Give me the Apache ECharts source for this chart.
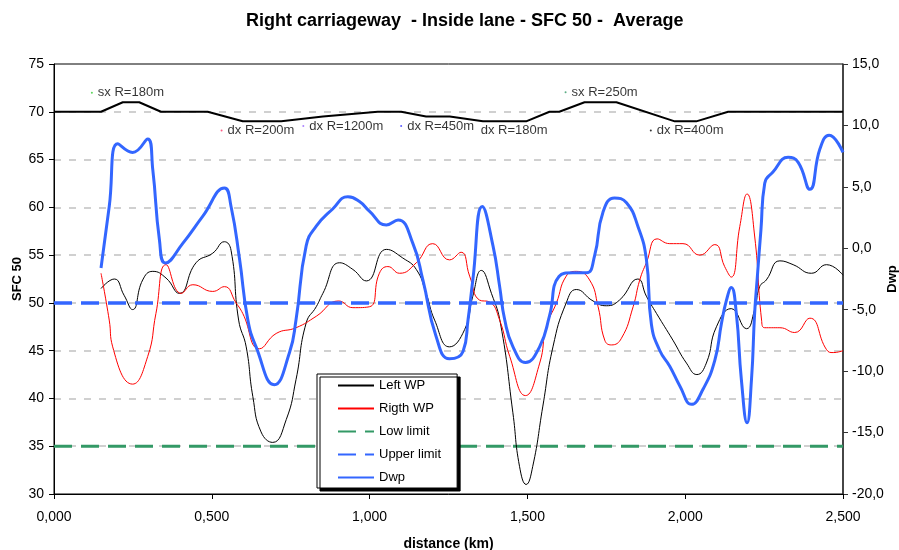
<!DOCTYPE html>
<html>
<head>
<meta charset="utf-8">
<title>SFC 50 - Average</title>
<script src="https://cdn.jsdelivr.net/npm/echarts@6/dist/echarts.min.js"></script>
<style>
html, body { margin: 0; padding: 0; background: #fff; }
#main { width: 899px; height: 550px; }
</style>
</head>
<body>
<div id="main"></div>
<script>
// Left WP (SFC 50, left axis)
var leftX = [0.149, 0.191, 0.222, 0.249, 0.281, 0.313, 0.355, 0.397, 0.450, 0.503, 0.540, 0.561, 0.585, 0.609, 0.630, 0.656, 0.693, 0.736, 0.767, 0.799, 0.831, 0.852, 0.905, 0.947, 0.990, 1.053, 1.105, 1.148, 1.179, 1.206, 1.253, 1.301, 1.327, 1.354, 1.386, 1.415, 1.454, 1.475, 1.496, 1.517, 1.549, 1.581, 1.623, 1.655, 1.708, 1.750, 1.792, 1.850, 1.877, 1.909, 1.961, 2.004, 2.037, 2.067, 2.099, 2.146, 2.194, 2.220, 2.236, 2.257, 2.300, 2.342, 2.400, 2.448, 2.500];
var leftY = [51.5, 52.5, 50.8, 49.3, 52.4, 53.3, 52.6, 51.0, 54.2, 55.2, 56.4, 55.5, 48.2, 45.4, 40.2, 36.5, 35.4, 37.8, 42.0, 47.9, 49.6, 51.0, 54.2, 53.5, 52.3, 55.6, 54.7, 53.5, 51.0, 48.2, 45.4, 47.2, 50.7, 53.4, 51.0, 47.8, 38.5, 32.9, 31.0, 32.9, 39.2, 45.4, 50.0, 51.4, 50.2, 49.7, 50.3, 52.5, 50.7, 48.9, 46.1, 43.7, 42.5, 43.7, 47.5, 49.4, 47.3, 49.3, 51.7, 52.4, 54.4, 54.0, 53.1, 54.0, 52.9];

// Rigth WP (SFC 50, left axis)
var rightX = [0.149, 0.175, 0.186, 0.249, 0.297, 0.323, 0.355, 0.403, 0.440, 0.503, 0.540, 0.577, 0.598, 0.651, 0.704, 0.767, 0.831, 0.902, 0.947, 1.000, 1.031, 1.058, 1.095, 1.148, 1.200, 1.253, 1.290, 1.317, 1.348, 1.380, 1.412, 1.444, 1.494, 1.539, 1.560, 1.592, 1.623, 1.655, 1.697, 1.724, 1.745, 1.766, 1.798, 1.835, 1.856, 1.877, 1.911, 1.951, 1.993, 2.046, 2.094, 2.125, 2.146, 2.173, 2.196, 2.220, 2.242, 2.252, 2.300, 2.347, 2.395, 2.448, 2.469, 2.500];
var rightY = [53.1, 48.2, 45.4, 41.5, 44.4, 48.9, 54.0, 51.0, 51.9, 51.2, 51.7, 50.0, 48.9, 45.2, 46.8, 47.4, 48.6, 50.2, 49.5, 49.6, 53.1, 53.8, 53.1, 54.2, 56.2, 54.5, 55.3, 52.8, 50.3, 50.1, 48.2, 44.4, 40.3, 43.7, 47.5, 50.0, 52.8, 53.3, 52.4, 49.6, 46.1, 45.6, 46.3, 49.6, 52.4, 54.2, 56.7, 56.2, 56.2, 55.0, 56.1, 53.8, 52.7, 58.0, 61.4, 57.0, 48.2, 47.4, 47.4, 46.9, 48.4, 45.1, 44.8, 45.0];

// Dwp (right axis)
var dwpX = [0.149, 0.175, 0.202, 0.249, 0.297, 0.313, 0.334, 0.353, 0.408, 0.471, 0.540, 0.561, 0.588, 0.614, 0.640, 0.698, 0.746, 0.767, 0.799, 0.831, 0.883, 0.931, 0.968, 1.000, 1.053, 1.090, 1.137, 1.169, 1.211, 1.253, 1.296, 1.312, 1.327, 1.357, 1.391, 1.412, 1.428, 1.454, 1.494, 1.539, 1.570, 1.600, 1.644, 1.687, 1.713, 1.739, 1.776, 1.814, 1.850, 1.877, 1.893, 1.919, 1.951, 1.983, 2.020, 2.056, 2.094, 2.115, 2.131, 2.146, 2.162, 2.178, 2.196, 2.210, 2.220, 2.228, 2.240, 2.252, 2.278, 2.326, 2.358, 2.395, 2.427, 2.456, 2.500];
var dwpY = [-1.6, 3.4, 8.5, 7.8, 8.9, 6.4, 0.7, -1.2, 0.4, 2.6, 4.9, 3.4, -0.9, -5.8, -8.0, -11.1, -8.5, -5.8, 0.2, 1.8, 3.2, 4.2, 3.8, 3.0, 1.9, 2.3, 0.4, -2.6, -7.2, -9.0, -8.4, -5.8, -2.6, 3.4, 0.2, -3.1, -5.8, -8.0, -9.3, -8.0, -5.5, -2.3, -2.0, -2.0, -0.6, 2.9, 4.1, 3.7, 1.8, -0.9, -6.2, -8.3, -9.6, -11.2, -12.7, -11.5, -9.1, -6.1, -4.2, -3.2, -5.3, -10.7, -14.2, -10.7, -5.3, -2.5, 1.5, 5.3, 6.2, 7.4, 7.0, 4.8, 8.1, 9.2, 7.8];

// limiti
var lowLimit = 35;
var upperLimit = 50;

// diagramma delle curvature (in alto)
var curveX = [0, 0.149, 0.218, 0.270, 0.339, 0.487, 0.598, 0.720, 0.852, 1.026, 1.100, 1.179, 1.254, 1.359, 1.496, 1.570, 1.601, 1.681, 1.782, 1.967, 2.035, 2.136, 2.500];
var curveY = [70, 70, 71, 71, 70, 70, 69, 69, 69.5, 70, 70, 69.5, 69.5, 69, 69, 70, 70, 71, 71, 69, 69, 70, 70];

var curveLabelX = [0.120, 0.531, 0.790, 1.100, 1.333, 1.621, 1.891];
var curveLabelY = [72.0, 68.05, 68.5, 68.5, 68.0, 72.05, 68.05];
var curveLabelText = ['sx R=180m', 'dx R=200m', 'dx R=1200m', 'dx R=450m', 'dx R=180m', 'sx R=250m', 'dx R=400m'];
var curveDotColor = ['#33cc33', '#ff3366', '#9966ff', '#3333ff', '#ffffff', '#339966', '#000000'];

function pairs(xs, ys) {
	var out = [];
	for (var i = 0; i < xs.length; i++) {
		out.push([xs[i], ys[i]]);
	}
	return out;
}

function comma(v, d) {
	return v.toFixed(d).replace('.', ',');
}

var font = 'Liberation Sans, Arial, sans-serif';

var labelData = [];
for (var k = 0; k < curveLabelX.length; k++) {
	labelData.push({
		value : [curveLabelX[k], curveLabelY[k]],
		name : curveLabelText[k],
		itemStyle : { color : curveDotColor[k] }
	});
}

var option = {
	animation : false,
	backgroundColor : '#ffffff',
	textStyle : { fontFamily : font },
	title : {
		text : 'Right carriageway  - Inside lane - SFC 50 -  Average',
		left : 241,
		top : 7,
		textStyle : {
			fontFamily : font,
			fontSize : 18,
			fontWeight : 'bold',
			color : '#000'
		}
	},
	grid : {
		left : 54,
		right : 56,
		top : 64,
		bottom : 56,
		outerBoundsMode : 'none',// niente ridimensionamento automatico
		show : true,
		borderColor : '#000',
		borderWidth : 1,
		backgroundColor : 'transparent'
	},
	legend : {
		orient : 'vertical',
		left : 317,
		top : 374,
		padding : [5, 16, 4, 20],
		itemWidth : 36,
		itemHeight : 14,
		itemGap : 10,
		itemStyle : { opacity : 0 },// nasconde il pallino
		backgroundColor : '#ffffff',
		borderColor : '#000',
		borderWidth : 1,
		borderRadius : 0,
		shadowColor : '#000',
		shadowOffsetX : 3,
		shadowOffsetY : 3,
		shadowBlur : 0,
		textStyle : {
			fontFamily : font,
			fontSize : 13,
			color : '#000'
		},
		data : ['Left WP', 'Rigth WP', 'Low limit', 'Upper limit', 'Dwp']
	},
	xAxis : {
		type : 'value',
		min : 0,
		max : 2.5,
		interval : 0.5,
		name : 'distance (km)',
		nameLocation : 'middle',
		nameGap : 43,
		nameTextStyle : {
			fontFamily : font,
			fontSize : 14,
			fontWeight : 'bold',
			color : '#000'
		},
		axisLine : { onZero : false, lineStyle : { color : '#000', width : 1 } },
		axisTick : { show : true, length : 5, lineStyle : { color : '#000' } },
		axisLabel : {
			fontFamily : font,
			fontSize : 14,
			color : '#000',
			margin : 16,
			formatter : function(v) {
				return comma(v, 3);
			}
		},
		splitLine : { show : false }
	},
	yAxis : [ {
		type : 'value',
		min : 30,
		max : 75,
		interval : 5,
		name : 'SFC 50',
		nameLocation : 'middle',
		nameGap : 30,
		nameRotate : 90,
		nameMoveOverlap : false,
		nameTextStyle : {
			fontFamily : font,
			fontSize : 13,
			fontWeight : 'bold',
			color : '#000'
		},
		axisLine : { show : true, lineStyle : { color : '#000', width : 1 } },
		axisTick : { show : true, length : 5, lineStyle : { color : '#000' } },
		axisLabel : {
			fontFamily : font,
			fontSize : 14,
			color : '#000',
			margin : 10
		},
		splitLine : {
			show : true,
			showMinLine : false,
			showMaxLine : false,
			lineStyle : { color : '#d0d0d0', width : 2, type : [7, 8] }
		}
	}, {
		type : 'value',
		min : -20,
		max : 15,
		interval : 5,
		name : 'Dwp',
		nameLocation : 'middle',
		nameGap : 43,
		nameRotate : 90,
		nameMoveOverlap : false,
		nameTextStyle : {
			fontFamily : font,
			fontSize : 13,
			fontWeight : 'bold',
			color : '#000'
		},
		axisLine : { show : true, lineStyle : { color : '#333', width : 1.5 } },
		axisTick : { show : true, length : 5, lineStyle : { color : '#333' } },
		axisLabel : {
			fontFamily : font,
			fontSize : 14,
			color : '#000',
			margin : 9,
			formatter : function(v) {
				return comma(v, 1);
			}
		},
		splitLine : { show : false }
	} ],
	series : [ {
		name : 'Left WP',
		type : 'line',
		data : pairs(leftX, leftY),
		smooth : 0.5,
		symbol : 'none',
		color : '#000000',
		lineStyle : { color : '#000000', width : 1 },
		z : 3
	}, {
		name : 'Rigth WP',
		type : 'line',
		data : pairs(rightX, rightY),
		smooth : 0.5,
		symbol : 'none',
		color : '#ff0000',
		lineStyle : { color : '#ff0000', width : 1 },
		z : 3
	}, {
		name : 'Low limit',
		type : 'line',
		data : [[0, lowLimit], [2.5, lowLimit]],
		symbol : 'none',
		color : '#339966',
		lineStyle : { color : '#339966', width : 3, type : [18, 9] },
		z : 2
	}, {
		name : 'Upper limit',
		type : 'line',
		data : [[0, upperLimit], [2.5, upperLimit]],
		symbol : 'none',
		color : '#3366ff',
		lineStyle : { color : '#3366ff', width : 3.5, type : [18, 9] },
		z : 4
	}, {
		name : 'Dwp',
		type : 'line',
		yAxisIndex : 1,
		data : pairs(dwpX, dwpY),
		smooth : 0.5,
		symbol : 'none',
		color : '#3366ff',
		lineStyle : { color : '#3366ff', width : 3 },
		z : 5
	}, {
		name : 'curvature',
		type : 'line',
		data : pairs(curveX, curveY),
		symbol : 'none',
		color : '#000',
		lineStyle : { color : '#000', width : 2 },
		z : 6,
		silent : true
	}, {
		name : 'curve labels',
		type : 'scatter',
		data : labelData,
		symbolSize : 2,
		label : {
			show : true,
			position : 'right',
			distance : 5,
			formatter : '{b}',
			fontFamily : font,
			fontSize : 13,
			color : '#000'
		},
		z : 7,
		silent : true
	} ]
};

var myChart = echarts.init(document.getElementById('main'));
myChart.setOption(option);
</script>
</body>
</html>
